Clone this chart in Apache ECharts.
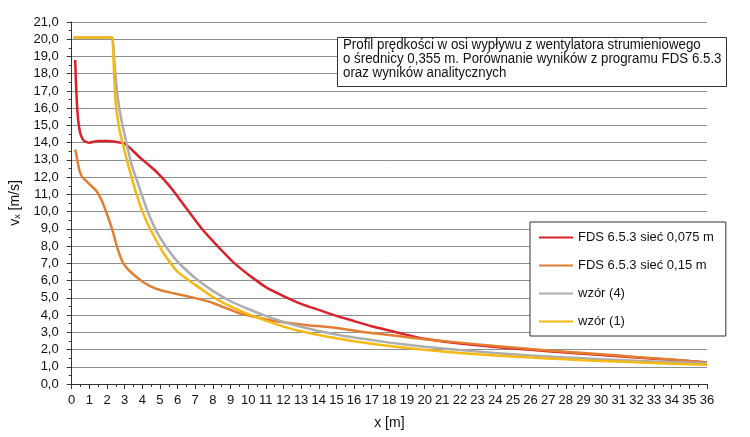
<!DOCTYPE html>
<html>
<head>
<meta charset="utf-8">
<script src="https://cdn.jsdelivr.net/npm/echarts@6/dist/echarts.min.js"></script>
<style>
html,body{margin:0;padding:0;background:#fff;}
#c{width:750px;height:437px;}
</style>
</head>
<body>
<div id="c"></div>
<script>
// ---- data ----
const seriesNames = ['FDS 6.5.3 sieć 0,075 m', 'FDS 6.5.3 sieć 0,15 m', 'wzór (4)', 'wzór (1)'];

const redX = [0.2,0.24,0.3,0.38,0.5,0.7,1.0,1.5,2.0,2.5,3.0,3.4,3.8,4.2,4.6,5.0,5.4,5.8,6.2,6.6,7.0,7.4,7.9,8.4,9.0,9.6,10.2,11,12,13,14,15,16,17,18,19,20,21,22,24,26,28,30,32,34,36];
const redY = [18.8,17.5,16.2,15.2,14.5,14.1,14.0,14.1,14.1,14.05,13.95,13.6,13.2,12.85,12.5,12.1,11.65,11.15,10.6,10.05,9.5,8.98,8.4,7.85,7.22,6.68,6.2,5.62,5.1,4.65,4.3,3.95,3.65,3.35,3.1,2.85,2.62,2.47,2.35,2.15,1.98,1.83,1.68,1.53,1.4,1.25];

const orangeX = [0.2,0.25,0.35,0.45,0.6,0.85,1.1,1.4,1.7,2.0,2.3,2.6,2.85,3.1,3.5,4.0,4.5,5.0,5.6,6.3,7.0,7.5,8,8.7,9.5,10.6,11.5,12.5,13.5,14.4,15.5,16.5,17.5,18.5,20,22,24,26,28,30,32,34,36];
const orangeY = [13.6,13.4,12.8,12.35,12.0,11.75,11.5,11.2,10.65,9.85,8.95,7.85,7.15,6.75,6.35,5.95,5.65,5.45,5.3,5.15,4.98,4.85,4.7,4.42,4.1,3.85,3.65,3.52,3.4,3.32,3.18,3.02,2.9,2.78,2.6,2.4,2.2,2.03,1.87,1.73,1.57,1.42,1.25];

const grayX = [0.1,2.2,2.3,2.45,2.6,2.8,3.1,3.4,3.7,4.2,4.6,5.0,5.5,6,6.5,7,8,9,10,11,12,13,14,15,16,18,20,22,24,26,28,30,32,34,36];
const grayY = [20.1,20.1,20.1,18.3,16.7,15.4,14.0,12.7,11.8,10.3,9.3,8.5,7.75,7.1,6.6,6.15,5.4,4.8,4.35,3.95,3.6,3.32,3.08,2.87,2.7,2.4,2.16,1.97,1.8,1.66,1.54,1.44,1.35,1.27,1.2];

const yellowX = [0.1,2.2,2.3,2.4,2.5,2.7,2.9,3.2,3.5,3.9,4.3,4.7,5.2,6.0,7,8,9,10,11,12,13,14,15,16,18,20,22,24,26,28,30,32,34,36];
const yellowY = [20.1,20.1,20.1,18.0,16.2,14.8,13.9,12.7,11.6,10.3,9.3,8.5,7.6,6.5,5.75,5.05,4.5,4.05,3.68,3.33,3.06,2.84,2.65,2.48,2.2,1.98,1.8,1.66,1.54,1.43,1.34,1.26,1.18,1.12];

const seriesColors = ['#D9232A', '#E37D32', '#ADADAD', '#F4B912'];

const titleLines = [
  'Profil prędkości w osi wypływu z wentylatora strumieniowego',
  'o średnicy 0,355 m. Porównanie wyników z programu FDS 6.5.3',
  'oraz wyników analitycznych'
];

const FONT = '"Liberation Sans Narrow", "Arial Narrow", "Liberation Sans", Arial, sans-serif';

function pairs(xs, ys) { return xs.map((x, i) => [x, ys[i]]); }
const allX = [redX, orangeX, grayX, yellowX];
const allY = [redY, orangeY, grayY, yellowY];

const chart = echarts.init(document.getElementById('c'), null, {renderer: 'canvas'});
chart.setOption({
  animation: false,
  backgroundColor: '#fff',
  grid: {left: 69, right: 43, top: 22, bottom: 53, containLabel: false},
  xAxis: {
    type: 'value', min: 0, max: 36, interval: 1,
    name: 'x [m]', nameLocation: 'middle', nameGap: 32,
    nameTextStyle: {fontFamily: FONT, fontSize: 14, color: '#111'},
    axisLine: {show: true, lineStyle: {color: '#333', width: 1}},
    axisTick: {show: true, length: 5, lineStyle: {color: '#333'}},
    minorTick: {show: true, splitNumber: 2, length: 3, lineStyle: {color: '#333'}},
    axisLabel: {fontFamily: FONT, fontSize: 13, color: '#111', margin: 10},
    splitLine: {show: false}
  },
  yAxis: {
    type: 'value', min: 0, max: 21, interval: 1,
    name: 'v{s|x} [m/s]', nameLocation: 'middle', nameGap: 47,
    nameTextStyle: {fontFamily: FONT, fontSize: 14, color: '#111',
      rich: {s: {fontFamily: FONT, fontSize: 9, verticalAlign: 'bottom', padding: [6, 0, 0, 0], color: '#111'}}},
    axisLine: {show: true, lineStyle: {color: '#333', width: 1}},
    axisTick: {show: true, length: 5, lineStyle: {color: '#333'}},
    minorTick: {show: true, splitNumber: 2, length: 3, lineStyle: {color: '#333'}},
    axisLabel: {fontFamily: FONT, fontSize: 13, color: '#111', margin: 13,
      formatter: v => v.toFixed(1).replace('.', ',')},
    splitLine: {show: true, lineStyle: {color: '#8f8f8f', width: 1}}
  },
  legend: {
    orient: 'vertical', left: 530, top: 222,
    padding: [9, 12, 8, 8], itemGap: 15, itemWidth: 34, itemHeight: 14,
    borderColor: '#333', borderWidth: 1, backgroundColor: '#fff',
    itemStyle: {opacity: 0},
    textStyle: {fontFamily: FONT, fontSize: 13, color: '#111'},
    data: seriesNames
  },
  graphic: [
    {type: 'rect', left: 337, top: 37, z: 100, shape: {width: 389, height: 49},
      style: {fill: '#fff', stroke: '#333', lineWidth: 1}},
    {type: 'text', x: 343, y: 38, z: 101, scaleX: 0.95, scaleY: 1,
      style: {text: titleLines.join('\n'), font: '14px ' + FONT, lineHeight: 14, fill: '#111'}}
  ],
  series: seriesNames.map((n, i) => ({
    name: n, type: 'line', data: pairs(allX[i], allY[i]),
    smooth: 0.2, symbol: 'none',
    lineStyle: {color: seriesColors[i], width: 2.5},
    itemStyle: {color: seriesColors[i]}
  }))
});
</script>
</body>
</html>
